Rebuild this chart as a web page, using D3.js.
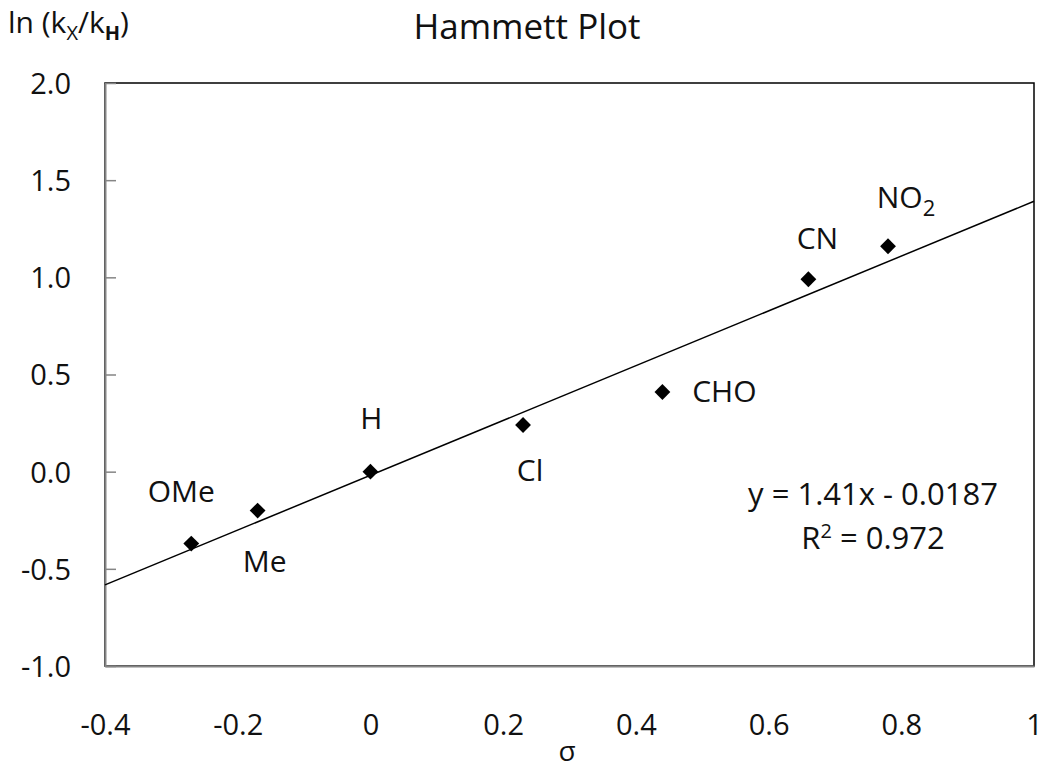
<!DOCTYPE html>
<html>
<head>
<meta charset="utf-8">
<script src="https://cdn.jsdelivr.net/npm/d3@7"></script>
<style>
  body { margin: 0; background: #fff; }
  text { font-family: "Open Sans", sans-serif; fill: #111; }
</style>
</head>
<body>
<script>
// substituents and their sigma / ln(kX/kH) values
var subst = ["OMe", "Me", "H", "Cl", "CHO", "CN", "NO2"];
var sigma = [-0.27, -0.17, 0, 0.23, 0.44, 0.66, 0.78];
var lnk   = [-0.37, -0.20, 0, 0.24, 0.41, 0.99, 1.16];
// trendline
var slope = 1.41, intercept = -0.0187;
var xTicks = [-0.4, -0.2, 0, 0.2, 0.4, 0.6, 0.8, 1];
var yTicks = [-1.0, -0.5, 0.0, 0.5, 1.0, 1.5, 2.0];

var W = 1050, H = 771;
var svg = d3.select("body").append("svg").attr("width", W).attr("height", H);

var x = d3.scaleLinear().domain([-0.4, 1]).range([105, 1034]);
var y = d3.scaleLinear().domain([-1, 2]).range([666, 83]);

// plot area border
svg.append("rect")
  .attr("x", x(-0.4)).attr("y", y(2))
  .attr("width", x(1) - x(-0.4)).attr("height", y(-1) - y(2))
  .attr("fill", "none").attr("stroke", "#000").attr("stroke-width", 1.5);

var fmt = function (d) { return d3.format(".1f")(d).replace("\u2212", "-"); };

// axes: grey lines, y ticks point inward
var xAxis = svg.append("g").attr("transform", "translate(0," + y(-1) + ")")
  .call(d3.axisBottom(x).tickValues(xTicks).tickSize(0).tickPadding(69)
    .tickFormat(function (d) { return d === 0 ? "0" : d === 1 ? "1" : fmt(d); }));
var yAxis = svg.append("g").attr("transform", "translate(" + x(-0.4) + ",0)")
  .call(d3.axisLeft(y).tickValues(yTicks).tickSizeInner(-11).tickSizeOuter(0).tickPadding(34).tickFormat(fmt));
[xAxis, yAxis].forEach(function (g) {
  g.select(".domain").attr("stroke", "#858585").attr("stroke-width", 2);
  g.selectAll(".tick line").attr("stroke", "#858585").attr("stroke-width", 1.5);
  g.selectAll("text").style("font-family", "'Open Sans', sans-serif").style("font-size", "29px").attr("fill", "#111");
});
xAxis.selectAll("text").attr("dy", "0");
yAxis.selectAll("text").attr("dy", "0.36em").attr("x", -34);

// trendline
svg.append("line")
  .attr("x1", x(-0.4)).attr("y1", y(slope * -0.4 + intercept))
  .attr("x2", x(1)).attr("y2", y(slope * 1 + intercept))
  .attr("stroke", "#000").attr("stroke-width", 1.5);

// markers
var sq = d3.symbol().type(d3.symbolSquare).size(125);
svg.selectAll("path.pt").data(subst).enter().append("path")
  .attr("class", "pt")
  .attr("d", sq)
  .attr("transform", function (d, i) { return "translate(" + x(sigma[i]) + "," + y(lnk[i]) + ") rotate(45)"; })
  .attr("fill", "#000");

// point labels (offsets in pixels)
var labDx = [-10, 7, 1, 7, 62, 9, 18];
var labDy = [-42, 61, -43, 56, 10, -30, -38];
var labs = svg.selectAll("text.lab").data(subst).enter().append("text")
  .attr("class", "lab")
  .attr("x", function (d, i) { return x(sigma[i]) + labDx[i]; })
  .attr("y", function (d, i) { return y(lnk[i]) + labDy[i]; })
  .attr("text-anchor", "middle")
  .style("font-size", "30px");
labs.each(function (d) {
  var t = d3.select(this);
  if (d === "NO2") {
    t.append("tspan").text("NO");
    t.append("tspan").attr("dy", 8).style("font-size", "22px").text("2");
  } else {
    t.text(d);
  }
});

// equation
svg.append("text").attr("x", 873).attr("y", 505).attr("text-anchor", "middle")
  .style("font-size", "31px").text("y = 1.41x - 0.0187");
var r2 = svg.append("text").attr("x", 873).attr("y", 549).attr("text-anchor", "middle")
  .style("font-size", "31px");
r2.append("tspan").text("R");
r2.append("tspan").attr("dy", -11).style("font-size", "20px").text("2");
r2.append("tspan").attr("dy", 11).text(" = 0.972");

// titles
svg.append("text").attr("x", 527).attr("y", 39).attr("text-anchor", "middle")
  .style("font-size", "35px").text("Hammett Plot");

var yt = svg.append("text").attr("x", 8).attr("y", 33).style("font-size", "30px");
yt.append("tspan").text("ln (k");
yt.append("tspan").attr("dy", 7).style("font-size", "20px").text("X");
yt.append("tspan").attr("dy", -7).text("/k");
yt.append("tspan").attr("dy", 7).style("font-size", "20px").style("font-weight", "bold").text("H");
yt.append("tspan").attr("dy", -7).text(")");

svg.append("text").attr("x", 567).attr("y", 761).attr("text-anchor", "middle")
  .style("font-size", "28px").text("σ");
</script>
</body>
</html>
